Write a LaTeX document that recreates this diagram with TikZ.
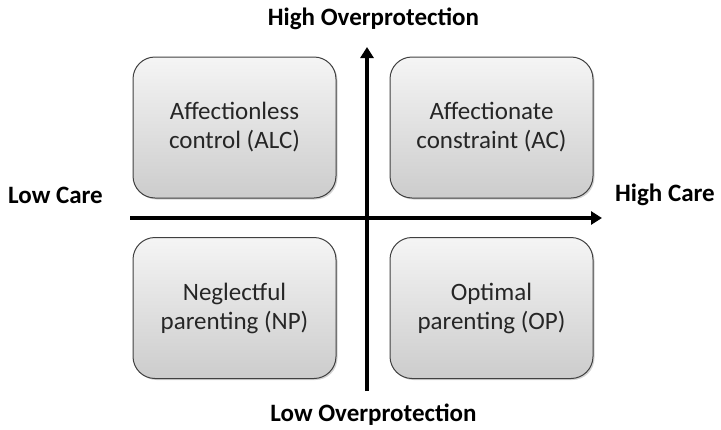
\documentclass[tikz,border=0pt]{standalone}
\usepackage{fontspec}
\setmainfont{Carlito}
\usetikzlibrary{arrows.meta,shadows}
\begin{document}
\begin{tikzpicture}[x=1pt,y=-1pt,
  quad/.style={draw=black!75, line width=1pt, rounded corners=22pt,
    top color=gray!8, bottom color=gray!40,
    minimum width=203pt, minimum height=141pt, align=center,
    font=\fontsize{25}{29}\selectfont, text=black!85,
    drop shadow={shadow xshift=1.5pt, shadow yshift=-1.5pt, opacity=0.35}},
  axis/.style={line width=4.5pt, -{Triangle[length=11pt,width=13pt]}},
  lab/.style={font=\bfseries\fontsize{25}{29}\selectfont}]
\useasboundingbox (0,0) rectangle (721,429);
\node[quad] (alc) at (234.5,127.5) {Affectionless\\control (ALC)};
\node[quad] (ac) at (491.5,127.5) {Affectionate\\constraint (AC)};
\node[quad] (np) at (234.5,308) {Neglectful\\parenting (NP)};
\node[quad] (op) at (491.5,308) {Optimal\\parenting (OP)};
\coordinate (vb) at (367,391);
\coordinate (vt) at (367,47);
\coordinate (hl) at (130,218);
\coordinate (hr) at (602,218);
\draw[axis] (vb) -- (vt);
\draw[axis] (hl) -- (hr);
\node[lab] (hop) at (373.5,19) {High Overprotection};
\node[lab] (lop) at (373.5,415) {Low Overprotection};
\node[lab] (lc) at (55.5,195) {Low Care};
\node[lab] (hc) at (665,195) {High Care};
\end{tikzpicture}
\end{document}
